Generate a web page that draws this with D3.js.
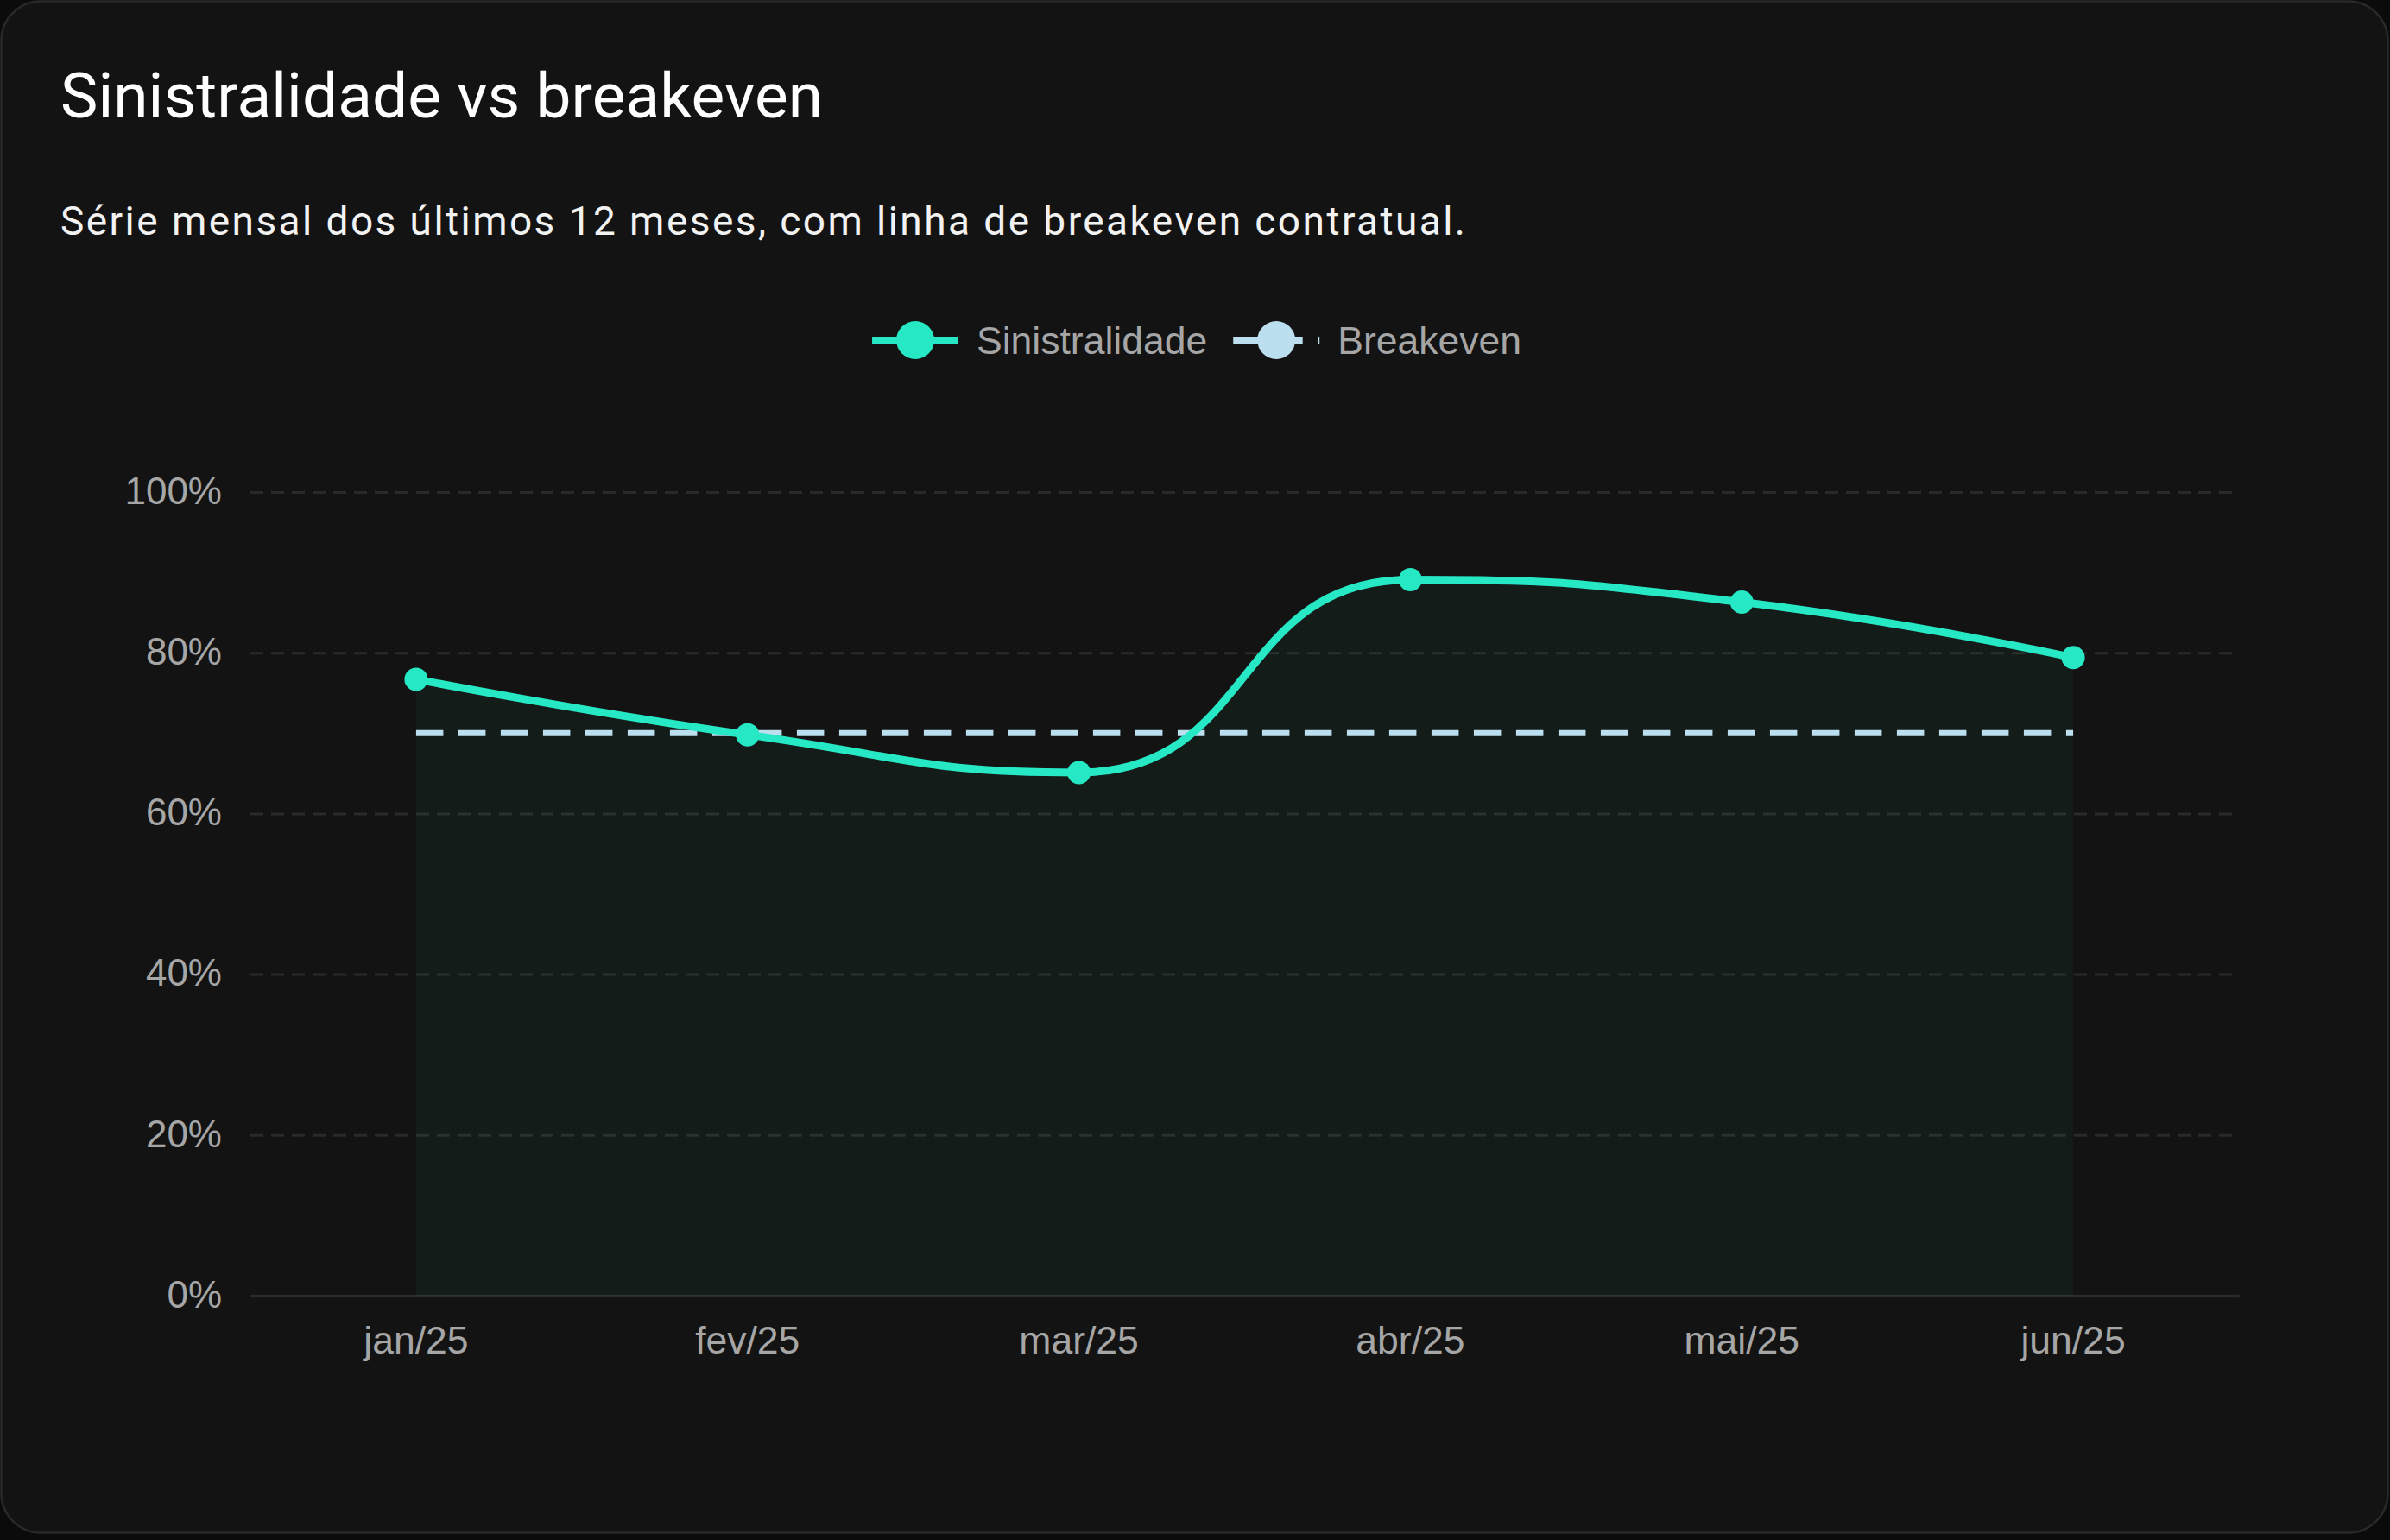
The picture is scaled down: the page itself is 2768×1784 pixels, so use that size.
<!DOCTYPE html>
<html>
<head>
<meta charset="utf-8">
<script src="https://cdn.jsdelivr.net/npm/d3@7/dist/d3.min.js"></script>
<style>
  html, body { margin: 0; padding: 0; background: #0b0b0b; }
  svg { display: block; }
</style>
</head>
<body>
<div id="chart"></div>
<script>
(function() {
  // data
  var months = ['jan/25', 'fev/25', 'mar/25', 'abr/25', 'mai/25', 'jun/25'];
  var sinistralidade = [76.7, 69.8, 65.1, 89.1, 86.3, 79.4];
  var breakeven = [70, 70, 70, 70, 70, 70];
  var yTicks = [0, 20, 40, 60, 80, 100];
  var seriesNames = ['Sinistralidade', 'Breakeven'];
  var seriesColors = ['#26e8c5', '#bcdff0'];

  var W = 2768, H = 1784;
  var TICK_FONT = '"Liberation Sans", Arial, Helvetica, sans-serif';
  var HEAD_FONT = 'Roboto, "Noto Sans", sans-serif';

  // smoothing with control points clamped to the neighbour boxes (flat at peaks)
  function ClampedSmooth(context, smooth) { this._context = context; this._smooth = smooth; }
  ClampedSmooth.prototype = {
    areaStart: function() { this._line = 0; },
    areaEnd: function() { this._line = NaN; },
    lineStart: function() { this._pts = []; },
    point: function(x, y) { this._pts.push([+x, +y]); },
    lineEnd: function() {
      var p = this._pts, ctx = this._context, s = this._smooth, n = p.length;
      if (n) {
        if (this._line) ctx.lineTo(p[0][0], p[0][1]); else ctx.moveTo(p[0][0], p[0][1]);
        var c0x = p[0][0], c0y = p[0][1];
        for (var i = 1; i < n; i++) {
          var px = p[i - 1][0], py = p[i - 1][1], x = p[i][0], y = p[i][1];
          var c1x, c1y, nx0 = x, ny0 = y;
          if (i === n - 1) { c1x = x; c1y = y; }
          else {
            var qx = p[i + 1][0], qy = p[i + 1][1];
            var vx = qx - px, vy = qy - py;
            var lp = Math.hypot(x - px, y - py), ln = Math.hypot(qx - x, qy - y);
            var r = ln / (ln + lp);
            nx0 = x + vx * s * r; ny0 = y + vy * s * r;
            nx0 = Math.max(Math.min(nx0, Math.max(qx, x)), Math.min(qx, x));
            ny0 = Math.max(Math.min(ny0, Math.max(qy, y)), Math.min(qy, y));
            vx = nx0 - x; vy = ny0 - y;
            c1x = x - vx * lp / ln; c1y = y - vy * lp / ln;
            c1x = Math.max(Math.min(c1x, Math.max(px, x)), Math.min(px, x));
            c1y = Math.max(Math.min(c1y, Math.max(py, y)), Math.min(py, y));
            vx = x - c1x; vy = y - c1y;
            nx0 = x + vx * ln / lp; ny0 = y + vy * ln / lp;
          }
          ctx.bezierCurveTo(c0x, c0y, c1x, c1y, x, y);
          c0x = nx0; c0y = ny0;
        }
      }
      if (this._line || (this._line !== 0 && n === 1)) ctx.closePath();
      this._line = 1 - this._line;
    }
  };
  var curveSmooth = function(context) { return new ClampedSmooth(context, 0.5); };

  var svg = d3.select('#chart').append('svg').attr('width', W).attr('height', H);

  // card
  svg.append('rect').attr('x', 1.5).attr('y', 1.5).attr('width', W - 4).attr('height', 1774)
    .attr('rx', 46).attr('fill', '#131313').attr('stroke', '#292929').attr('stroke-width', 2.5);

  function fitWidth(sel, target) {
    var len = sel.node().getComputedTextLength();
    sel.attr('letter-spacing', ((target - len) / (sel.text().length - 1)) + 'px');
  }

  var title = svg.append('text').attr('x', 70).attr('y', 136).attr('fill', '#ffffff')
    .attr('font-family', HEAD_FONT).attr('font-size', '73px')
    .text('Sinistralidade vs breakeven');
  fitWidth(title, 883);

  var sub = svg.append('text').attr('x', 70).attr('y', 272).attr('fill', '#f2f2f2')
    .attr('font-family', HEAD_FONT).attr('font-size', '46px')
    .text('Série mensal dos últimos 12 meses, com linha de breakeven contratual.');
  fitWidth(sub, 1627);

  // scales
  var x = d3.scaleBand().domain(months).range([290, 2593]).padding(0);
  var cx = function(m) { return x(m) + x.bandwidth() / 2; };
  var y = d3.scaleLinear().domain([0, 100]).range([1501, 570]);

  // grid
  var grid = svg.append('g').attr('transform', 'translate(290,0)')
    .call(d3.axisLeft(y).tickValues(yTicks.filter(function(t) { return t > 0; }))
      .tickSize(-(2588 - 290)).tickFormat(''));
  grid.select('.domain').remove();
  grid.selectAll('line').attr('stroke', '#2a2a2a').attr('stroke-width', 3)
    .attr('stroke-dasharray', '15,9');

  // y labels
  var yAxis = svg.append('g').attr('transform', 'translate(290,0)')
    .call(d3.axisLeft(y).tickValues(yTicks).tickSize(0).tickPadding(33)
      .tickFormat(function(d) { return d + '%'; }));
  yAxis.select('.domain').remove();
  yAxis.selectAll('text').attr('fill', '#a6a6a6').attr('font-family', TICK_FONT)
    .attr('font-size', '44px').attr('dy', '0.3em');

  // x axis
  var xAxis = svg.append('g').attr('transform', 'translate(0,' + y(0) + ')')
    .call(d3.axisBottom(x).tickSize(0).tickPadding(35));
  xAxis.select('.domain').attr('stroke', '#2b2b2b').attr('stroke-width', 3.5);
  xAxis.selectAll('text').attr('fill', '#a6a6a6').attr('font-family', TICK_FONT)
    .attr('font-size', '44.5px');

  var pts = months.map(function(m, i) { return { m: m, v: sinistralidade[i], b: breakeven[i] }; });

  // area under sinistralidade
  var area = d3.area().curve(curveSmooth)
    .x(function(d) { return cx(d.m); }).y0(y(0)).y1(function(d) { return y(d.v); });
  svg.append('path').datum(pts).attr('d', area)
    .attr('fill', seriesColors[0]).attr('fill-opacity', 0.045);

  // breakeven dashed
  var beLine = d3.line().x(function(d) { return cx(d.m); }).y(function(d) { return y(d.b); });
  svg.append('path').datum(pts).attr('d', beLine).attr('fill', 'none')
    .attr('stroke', seriesColors[1]).attr('stroke-width', 7).attr('stroke-dasharray', '31.5,17.5');

  // sinistralidade line + points
  var sLine = d3.line().curve(curveSmooth)
    .x(function(d) { return cx(d.m); }).y(function(d) { return y(d.v); });
  svg.append('path').datum(pts).attr('d', sLine).attr('fill', 'none')
    .attr('stroke', seriesColors[0]).attr('stroke-width', 9).attr('stroke-linejoin', 'round');
  svg.append('g').selectAll('circle').data(pts).join('circle')
    .attr('cx', function(d) { return cx(d.m); }).attr('cy', function(d) { return y(d.v); })
    .attr('r', 13.5).attr('fill', seriesColors[0]);

  // legend
  var lg = svg.append('g');
  var items = lg.selectAll('g').data(seriesNames).join('g');
  items.append('line').attr('x1', 0).attr('x2', 100).attr('y1', 0).attr('y2', 0)
    .attr('stroke', function(d, i) { return seriesColors[i]; }).attr('stroke-width', 8)
    .attr('stroke-dasharray', function(d, i) { return i === 1 ? '31.5,17.5' : null; });
  items.append('circle').attr('cx', 50).attr('cy', 0).attr('r', 22)
    .attr('fill', function(d, i) { return seriesColors[i]; });
  items.append('text').attr('x', 121).attr('y', 0).attr('dy', '0.35em')
    .attr('fill', '#a6a6a6').attr('font-family', TICK_FONT).attr('font-size', '44.5px')
    .text(function(d) { return d; });
  var widths = [];
  items.each(function() { widths.push(121 + d3.select(this).select('text').node().getComputedTextLength()); });
  var total = d3.sum(widths) + 30 * (widths.length - 1);
  var cur = 1386 - total / 2;
  items.attr('transform', function(d, i) {
    var t = 'translate(' + cur + ',394)';
    cur += widths[i] + 30;
    return t;
  });
})();
</script>
</body>
</html>
